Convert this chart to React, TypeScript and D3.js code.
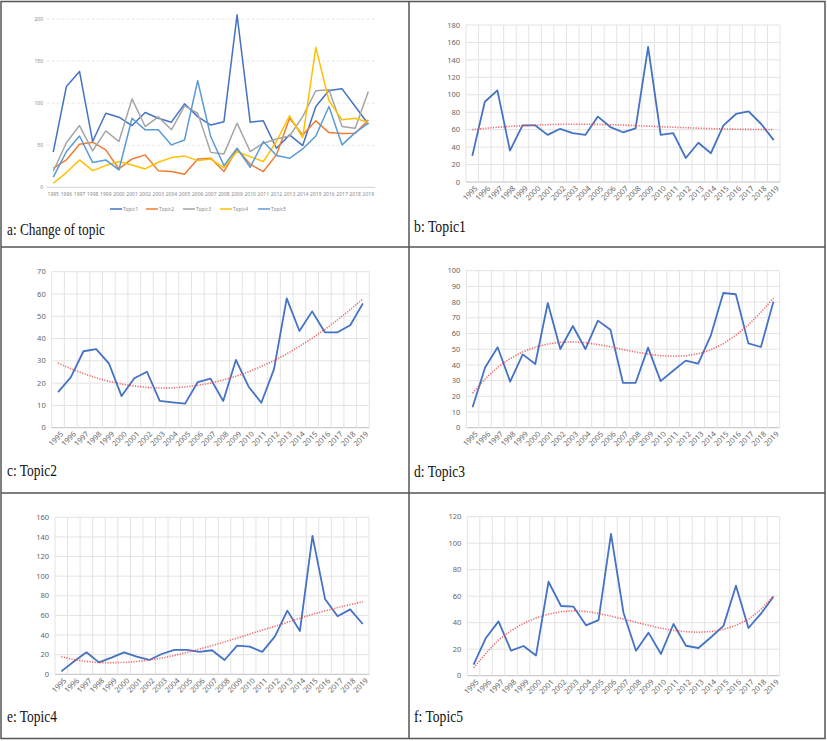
import React, { useEffect } from "react";
import * as d3 from "d3";

const YEARS = ["1995","1996","1997","1998","1999","2000","2001","2002","2003","2004","2005","2006","2007","2008","2009","2010","2011","2012","2013","2014","2015","2016","2017","2018","2019"];

// Panel a: Change of topic
const A_TOPIC1 = [41.7,119.8,137.7,54.4,88,83.3,73.4,88.9,82,77.4,99.2,84,74,78,205,77.4,79,46.4,62.3,49.6,96,115,117,96,75];
const A_TOPIC2 = [22.6,32.5,51.2,53.6,44.4,21.8,33.7,38.5,19.8,18.7,15.5,33.7,34.5,18.7,45.6,27.4,18.7,38.5,82,62.3,79,65,64,64.3,80];
const A_TOPIC3 = [19,53,73.4,43.3,67,54.4,105,72.2,83.7,68.3,96.8,88,41.5,39.7,76.2,42.5,52.4,57.5,61,84,114.7,115.9,72.2,70.2,113.9];
const A_TOPIC4 = [4.8,17.5,32.5,19.8,25.8,30.6,26.6,21.8,29.8,35.3,37.3,31.7,33.5,23.4,42.5,36.5,30.6,54.4,85,59,166.3,102.8,80.2,82,77.4];
const A_TOPIC5 = [12,42.5,61,29.4,32.5,20.6,82,68.3,68.3,50.4,56.3,126.6,60,25.8,46.4,23.8,54.4,37.7,34.5,45.6,61,96,50.4,65,76.2];
const A_NAMES = ["Topic1","Topic2","Topic3","Topic4","Topic5"];
const A_COLORS = ["#4472C4","#ED7D31","#A5A5A5","#FFC000","#5B9BD5"];
const A_TICKS = [0,50,100,150,200];

// Panels b-f
const TOPIC1 = [30,92,105,36,65,65,54,61,56,54,75,63,57,61.5,155,54,56,27.5,45,33,65,78,81,66.5,48];
const TOPIC1_TREND = [60,61.5,62.8,63.8,64.6,65.3,65.8,66.1,66.2,66.2,66,65.7,65.3,64.6,64,63.4,62.8,62.2,61.7,61.2,60.8,60.5,60.3,60.2,60.2];
const TOPIC1_TICKS = [0,20,40,60,80,100,120,140,160,180];

const TOPIC2 = [16,22.6,34.3,35.3,28.9,14.2,22.2,25.1,12,11.4,10.8,20.5,22,12,30.4,18.4,11.2,26.3,58,43.4,52.2,42.8,42.8,46,55.8];
const TOPIC2_TREND = [29,26.5,24.3,22.4,20.8,19.6,18.7,18.1,17.8,17.9,18.3,19,20,21.4,23.1,25.1,27.5,30.1,33.1,36.5,40.1,44.1,48.4,53,57.8];
const TOPIC2_TICKS = [0,10,20,30,40,50,60,70];

const TOPIC3 = [13,38.4,51.2,29.3,46.7,40.6,79.4,50.1,64.8,50.1,68.2,62.4,28.5,28.5,51,29.7,36.3,42.7,40.8,58.6,85.8,85,53.7,51.4,80.3];
const TOPIC3_TREND = [22,31,38.5,44,48.3,51.3,53.3,54.4,54.7,54.2,53,51.5,49.8,48.2,46.9,45.9,45.5,45.8,47.1,49.6,53.5,58.9,65.5,73.5,82.5];
const TOPIC3_TICKS = [0,10,20,30,40,50,60,70,80,90,100];

const TOPIC4 = [3,13,22.4,12.2,17,22.4,18,14.6,20.7,24.8,24.8,22.8,24.5,14.6,29.2,28.2,22.8,38.4,64.9,44.2,141,76.8,59.1,66.2,51.3];
const TOPIC4_TREND = [18,15,13,12,11.8,12.1,13,14.5,16.6,19.2,22.2,25.6,29.2,33,37,41,45,49,53,57.2,61.1,64.7,68,71,73.8];
const TOPIC4_TICKS = [0,20,40,60,80,100,120,140,160];

const TOPIC5 = [8.3,28.7,41,18.9,22.4,15.3,70.9,52.6,52.1,38,42,107,47.5,18.9,32.5,16.4,39,22.6,20.9,29,37.6,67.9,36,46.8,59.6];
const TOPIC5_TREND = [6,17,27,34,39.5,43.5,46.5,48.3,49,48.5,47,45,42.7,40.3,38,35.8,34.2,33.2,32.8,33.3,35,38,42.5,50,60.3];
const TOPIC5_TICKS = [0,20,40,60,80,100,120];

const W = 827;
const H = 741;
const SANS = "'Noto Sans', 'DejaVu Sans', sans-serif";
const SERIF = "'Liberation Serif', 'DejaVu Serif', serif";

type Box = { left: number; right: number; top: number; bottom: number };

function SmallChart(props: {
  values: number[];
  trend: number[];
  ticks: number[];
  box: Box;
}) {
  const { values, trend, ticks, box } = props;
  const x = d3.scaleBand<string>().domain(YEARS).range([box.left, box.right]).padding(0);
  const bw = x.bandwidth();
  const cx = (i: number) => (x(YEARS[i]) as number) + bw / 2;
  const y = d3.scaleLinear().domain([0, ticks[ticks.length - 1]]).range([box.bottom, box.top]);
  const line = d3.line<number>().x((_, i) => cx(i)).y((v) => y(v));
  const bounds = YEARS.map((yr) => x(yr) as number).concat([box.right]);
  return (
    <g>
      {ticks.map((t) => (
        <line key={"h" + t} x1={box.left} x2={box.right} y1={y(t)} y2={y(t)}
          stroke={t === 0 ? "#BFBFBF" : "#E3E3E3"} strokeWidth={1} />
      ))}
      {bounds.map((bx, i) => (
        <line key={"v" + i} x1={bx} x2={bx} y1={box.top} y2={box.bottom}
          stroke="#E3E3E3" strokeWidth={1} />
      ))}
      {ticks.map((t) => (
        <text key={"yl" + t} x={box.left - 6} y={y(t)} dy="0.35em" textAnchor="end"
          fontSize={7.5} fill="#666" fontFamily={SANS}>{t}</text>
      ))}
      {YEARS.map((yr, i) => {
        const tx = cx(i) + 4;
        const ty = box.bottom + 5;
        return (
          <text key={"xl" + yr} x={tx} y={ty} dy="0.35em" textAnchor="end"
            transform={`rotate(-45 ${tx} ${ty})`} fontSize={7.5} fill="#666"
            fontFamily={SANS}>{yr}</text>
        );
      })}
      <path d={line(values) || ""} fill="none" stroke="#4472C4" strokeWidth={1.8}
        strokeLinejoin="round" />
      <path d={line(trend) || ""} fill="none" stroke="#EE4444" strokeWidth={1.6}
        strokeDasharray="1.2 1.4" opacity={0.8} />
    </g>
  );
}

function ChartA() {
  const box: Box = { left: 46.7, right: 374.9, top: 19, bottom: 187.3 };
  const x = d3.scaleBand<string>().domain(YEARS).range([box.left, box.right]).padding(0);
  const bw = x.bandwidth();
  const cx = (i: number) => (x(YEARS[i]) as number) + bw / 2;
  const y = d3.scaleLinear().domain([0, 200]).range([box.bottom, box.top]);
  const line = d3.line<number>().x((_, i) => cx(i)).y((v) => y(v));
  const series = [A_TOPIC1, A_TOPIC2, A_TOPIC3, A_TOPIC4, A_TOPIC5];
  const legendX = [110, 146, 183, 220, 258];
  return (
    <g>
      {A_TICKS.map((t) => (
        <line key={"h" + t} x1={box.left} x2={box.right} y1={y(t)} y2={y(t)}
          stroke={t === 0 ? "#D0D0D0" : "#E6E6E6"} strokeWidth={1}
          strokeDasharray={t === 0 ? undefined : "3 2"} />
      ))}
      {A_TICKS.map((t) => (
        <text key={"yl" + t} x={43} y={y(t)} dy="0.35em" textAnchor="end"
          fontSize={5} fill="#8a8a8a" fontFamily={SANS}>{t}</text>
      ))}
      {YEARS.map((yr, i) => (
        <text key={"xl" + yr} x={cx(i)} y={194} dy="0.35em" textAnchor="middle"
          fontSize={5} fill="#8a8a8a" fontFamily={SANS}>{yr}</text>
      ))}
      {series.map((s, k) => (
        <path key={"s" + k} d={line(s) || ""} fill="none" stroke={A_COLORS[k]}
          strokeWidth={1.5} strokeLinejoin="round" />
      ))}
      {A_NAMES.map((n, k) => (
        <g key={"lg" + n}>
          <line x1={legendX[k]} x2={legendX[k] + 12} y1={209} y2={209}
            stroke={A_COLORS[k]} strokeWidth={1.5} />
          <text x={legendX[k] + 13} y={209} dy="0.35em" fontSize={5} fill="#8a8a8a"
            fontFamily={SANS}>{n}</text>
        </g>
      ))}
    </g>
  );
}

function Caption(props: { x: number; y: number; text: string; width: number }) {
  return (
    <text x={props.x} y={props.y} fontSize={17} fontFamily={SERIF} fill="#111"
      textLength={props.width} lengthAdjust="spacingAndGlyphs">{props.text}</text>
  );
}

export default function App() {
  useEffect(() => {
    document.body.style.margin = "0";
  }, []);
  return (
    <svg width={W} height={H} viewBox={`0 0 ${W} ${H}`} style={{ display: "block", background: "#fff" }}>
      <rect x={0} y={0} width={W} height={H} fill="#fff" />
      <ChartA />
      <SmallChart values={TOPIC1} trend={TOPIC1_TREND} ticks={TOPIC1_TICKS}
        box={{ left: 466, right: 780, top: 25, bottom: 182 }} />
      <SmallChart values={TOPIC2} trend={TOPIC2_TREND} ticks={TOPIC2_TICKS}
        box={{ left: 51.7, right: 369.3, top: 271.7, bottom: 427.7 }} />
      <SmallChart values={TOPIC3} trend={TOPIC3_TREND} ticks={TOPIC3_TICKS}
        box={{ left: 466.3, right: 779.7, top: 270.7, bottom: 427.7 }} />
      <SmallChart values={TOPIC4} trend={TOPIC4_TREND} ticks={TOPIC4_TICKS}
        box={{ left: 55, right: 369, top: 517.3, bottom: 674.3 }} />
      <SmallChart values={TOPIC5} trend={TOPIC5_TREND} ticks={TOPIC5_TICKS}
        box={{ left: 467.3, right: 779.7, top: 516.7, bottom: 675.7 }} />
      <Caption x={7} y={235} text="a: Change of topic" width={98} />
      <Caption x={414} y={232} text="b: Topic1" width={52} />
      <Caption x={7} y={476} text="c: Topic2" width={50} />
      <Caption x={414} y={477} text="d: Topic3" width={51} />
      <Caption x={7} y={722} text="e: Topic4" width={50} />
      <Caption x={414} y={722} text="f: Topic5" width={49} />
      <g stroke="#555" strokeWidth={1.5} fill="none">
        <rect x={1} y={1.5} width={824} height={737} />
        <line x1={409} x2={409} y1={1.5} y2={738.5} />
        <line x1={1} x2={825} y1={247} y2={247} />
        <line x1={1} x2={825} y1={493} y2={493} />
      </g>
    </svg>
  );
}
